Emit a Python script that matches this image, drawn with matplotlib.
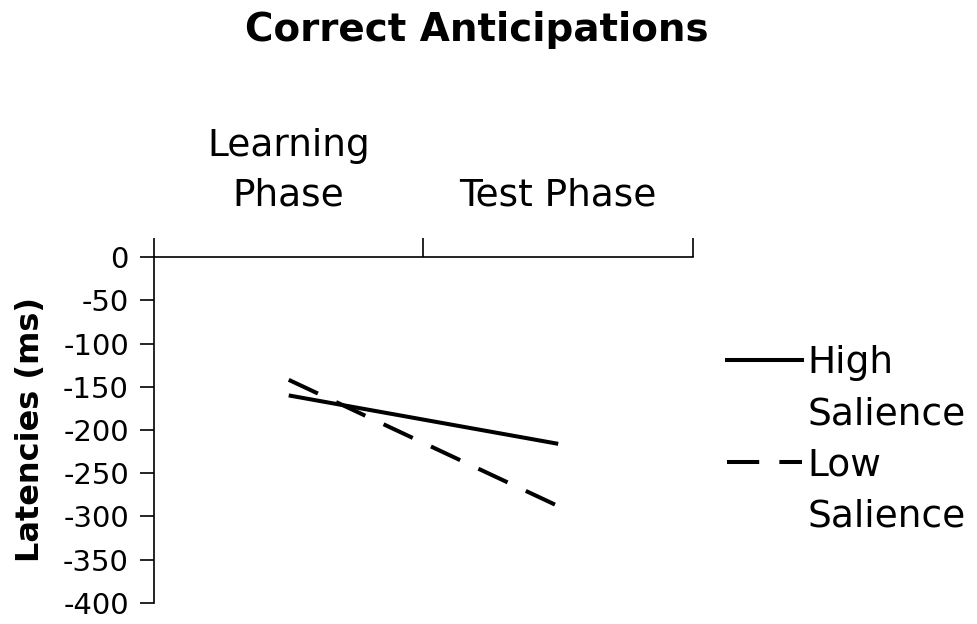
import matplotlib
matplotlib.use("Agg")
import matplotlib.pyplot as plt
from matplotlib.lines import Line2D

# datos
fases = ["Learning\nPhase", "Test Phase"]
alta_saliencia = [-160, -216]
baja_saliencia = [-142, -288]
yticks = [0, -50, -100, -150, -200, -250, -300, -350, -400]

plt.rcParams["font.family"] = ["DejaVu Sans"]

fig = plt.figure(figsize=(9.77, 6.24), dpi=100)
ax = fig.add_axes([0.1576, 0.0337, 0.5517, 0.5544])

xs = [i + 0.5 for i in range(len(fases))]
ax.plot(xs, alta_saliencia, color="black", lw=2.9, solid_capstyle="butt")
ax.plot(xs, baja_saliencia, color="black", lw=2.9, dashes=(8, 5), dash_capstyle="butt")

ax.set_xlim(0, len(fases))
ax.set_ylim(-400, 0)

# eje x arriba
ax.xaxis.tick_top()
ax.spines["bottom"].set_visible(False)
ax.spines["right"].set_visible(False)
for s in ("top", "left"):
    ax.spines[s].set_linewidth(1.2)
ax.set_xticks(range(len(fases) + 1))
ax.set_xticklabels([])
ax.tick_params(axis="x", which="major", direction="out", length=14, width=1.2)
ax.set_xticks(xs, minor=True)
ax.set_xticklabels(fases, minor=True, fontsize=27, linespacing=1.5)
ax.tick_params(axis="x", which="minor", length=0, pad=31)

ax.set_yticks(yticks)
ax.set_yticklabels([str(v) for v in yticks], fontsize=21)
ax.tick_params(axis="y", direction="out", length=10, width=1.2, pad=8)
ax.set_ylabel("Latencies (ms)", fontsize=23, fontweight="bold", labelpad=12)

fig.suptitle("Correct Anticipations", fontsize=28, fontweight="bold", x=0.488, y=0.983)

# leyenda
h_alta = Line2D([], [], color="black", lw=2.9)
h_baja = Line2D([], [], color="black", lw=2.9, dashes=(8, 5))
vacio = Line2D([], [], color="none")
ax.legend([h_alta, vacio, h_baja, vacio], ["High", "Salience", "Low", "Salience"],
          loc="upper left", bbox_to_anchor=(1.035, 0.789), frameon=False,
          fontsize=27, handlelength=2.0, handletextpad=0.16, labelspacing=0.40,
          borderaxespad=0)

fig.savefig("out.png", dpi=100)
